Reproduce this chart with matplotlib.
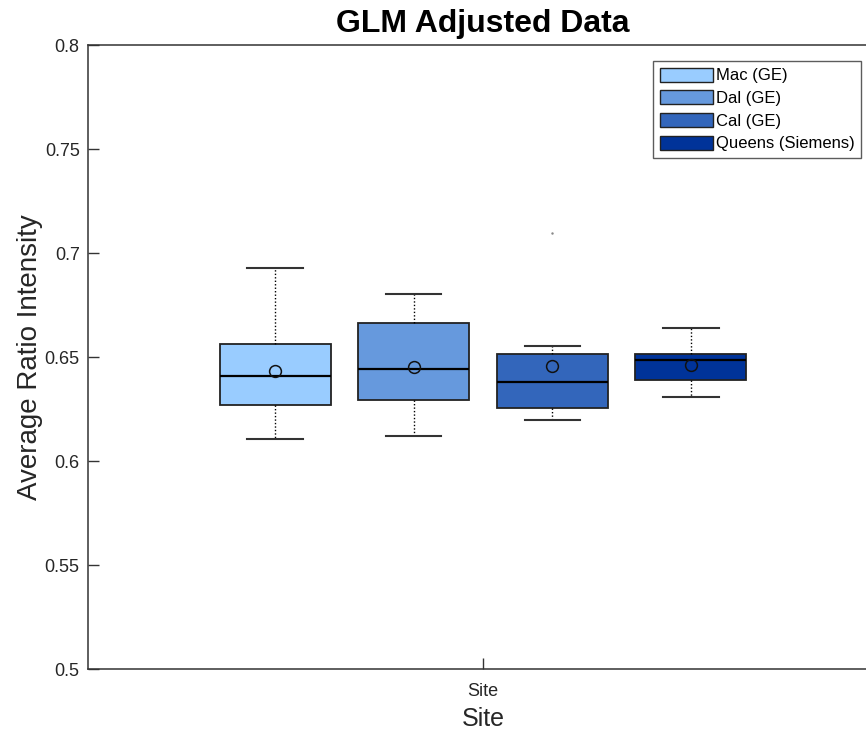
import matplotlib
matplotlib.use("Agg")
import matplotlib.pyplot as plt
from matplotlib.patches import Patch

plt.rcParams['font.family'] = ['Liberation Sans', 'DejaVu Sans']

# box statistics per site
sites = ['Mac (GE)', 'Dal (GE)', 'Cal (GE)', 'Queens (Siemens)']
colors = ['#99CCFF', '#6699DD', '#3366BB', '#003399']
whislo = [0.6106, 0.6122, 0.6197, 0.6306]
q1 = [0.6269, 0.6292, 0.6256, 0.6389]
med = [0.6409, 0.6442, 0.6378, 0.6484]
q3 = [0.6562, 0.6663, 0.6514, 0.6513]
whishi = [0.6928, 0.6801, 0.6553, 0.6639]
means = [0.6434, 0.6450, 0.6458, 0.6463]
fliers = [[], [], [0.7095], []]

positions = [1, 2, 3, 4]

stats = []
for i in range(4):
    stats.append(dict(label=sites[i], whislo=whislo[i], q1=q1[i], med=med[i],
                      q3=q3[i], whishi=whishi[i], mean=means[i], fliers=fliers[i]))

fig = plt.figure(figsize=(8.66, 7.32), dpi=100)
ax = fig.add_axes([88/866, 1 - 669/732, 790/866, 624/732])

bp = ax.bxp(stats, positions=positions, widths=0.8, patch_artist=True,
            showmeans=True, showfliers=True,
            boxprops=dict(edgecolor='#222222', linewidth=1.3),
            medianprops=dict(color='black', linewidth=1.6),
            whiskerprops=dict(color='black', linestyle=(0, (1, 1.5)), linewidth=1.0),
            capprops=dict(color='#333333', linewidth=1.5),
            meanprops=dict(marker='o', markerfacecolor='none', markeredgecolor='#111111',
                           markersize=8.5, markeredgewidth=1.1),
            flierprops=dict(marker='.', markersize=1.5, markerfacecolor='#888888',
                            markeredgecolor='#888888'))
# caps are half the box width
for c in bp['caps']:
    x0, x1 = c.get_xdata()
    xm = (x0 + x1) / 2
    c.set_xdata([xm - 0.2, xm + 0.2])
for patch, col in zip(bp['boxes'], colors):
    patch.set_facecolor(col)

ax.set_xlim(-0.35, 5.35)
ax.set_ylim(0.5, 0.8)
ax.set_xticks([2.5])
ax.set_xticklabels(['Site'])
ax.set_yticks([0.5, 0.55, 0.6, 0.65, 0.7, 0.75, 0.8])
ax.set_yticklabels(['0.5', '0.55', '0.6', '0.65', '0.7', '0.75', '0.8'])
ax.tick_params(direction='in', length=8, width=1, colors='#333333', labelsize=13,
               labelcolor='#262626')
ax.tick_params(axis='x', pad=10)
ax.tick_params(axis='y', pad=6)
for s in ax.spines.values():
    s.set_color('#333333')
    s.set_linewidth(1.1)

ax.set_xlabel('Site', fontsize=18, color='#262626', labelpad=5)
ax.set_ylabel('Average Ratio Intensity', fontsize=20, color='#262626', labelpad=1)
fig.text(483/866, 1 - 24/732, 'GLM Adjusted Data', ha='center', va='center',
         fontsize=23, fontweight='bold', color='black')

handles = [Patch(facecolor=c, edgecolor='#222222', linewidth=1) for c in colors]
leg = fig.legend(handles, sites, loc='upper right',
                 bbox_to_anchor=(861/866, 1 - 61/732), fontsize=12,
                 frameon=True, fancybox=False, edgecolor='#333333',
                 handlelength=3.2, handleheight=0.9, handletextpad=0.15,
                 labelspacing=0.42, borderpad=0.4, borderaxespad=0)
leg.get_frame().set_linewidth(1.0)

fig.savefig('out.png', dpi=100, facecolor='white')
